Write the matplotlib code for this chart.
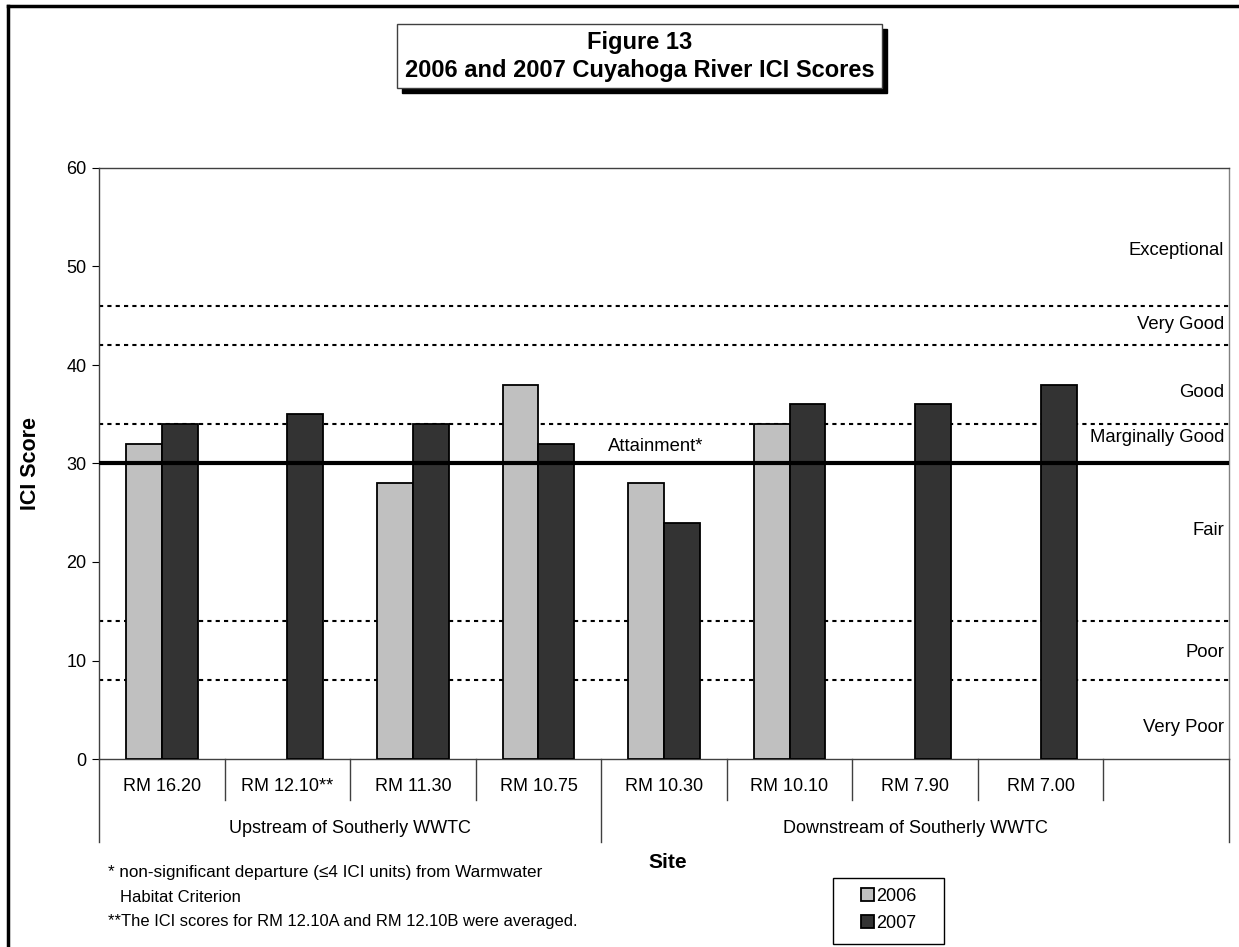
import numpy as np
import matplotlib
matplotlib.use("Agg")
import matplotlib.pyplot as plt
from matplotlib.patches import Rectangle
from matplotlib.lines import Line2D

plt.rcParams['font.family'] = ['Liberation Sans', 'DejaVu Sans']

# Data
sites = ["RM 16.20", "RM 12.10**", "RM 11.30", "RM 10.75", "RM 10.30",
         "RM 10.10", "RM 7.90", "RM 7.00", ""]
groups = ["Upstream of Southerly WWTC", "Downstream of Southerly WWTC"]
group_spans = [(0, 3), (4, 8)]
ici_2006 = [32, np.nan, 28, 38, 28, 34, np.nan, np.nan, np.nan]
ici_2007 = [34, 35, 34, 32, 24, 36, 36, 38, np.nan]

# Narrative thresholds and band labels
dashed_levels = [46, 42, 34, 14, 8]
attainment = 30
band_labels = ["Exceptional", "Very Good", "Good", "Marginally Good",
               "Fair", "Poor", "Very Poor"]
band_label_y = [51.6, 44.1, 37.2, 32.6, 23.2, 10.8, 3.2]

FS = 13
W, H = 1239, 947
fig = plt.figure(figsize=(W / 100, H / 100), dpi=100)
ax = fig.add_axes([99 / W, 1 - 759 / H, (1229 - 99) / W, (759 - 168) / H])

x = np.arange(len(sites))
bw = 0.286
ax.bar(x - bw / 2, ici_2006, bw, color="#C0C0C0", edgecolor="black",
       linewidth=1.3, label="2006", zorder=3)
ax.bar(x + bw / 2, ici_2007, bw, color="#333333", edgecolor="black",
       linewidth=1.3, label="2007", zorder=3)

for lvl in dashed_levels:
    ax.axhline(lvl, color="black", lw=1.5, linestyle=(0, (2, 2)), zorder=2)
ax.axhline(attainment, color="black", lw=3, zorder=4)

ax.set_xlim(-0.5, len(sites) - 0.5)
ax.set_ylim(0, 60)
ax.set_yticks(range(0, 61, 10))
ax.tick_params(axis="y", labelsize=FS, length=5, direction="out", pad=4)
ax.set_xticks([])

for s in ax.spines.values():
    s.set_color("#404040")
    s.set_linewidth(1)
ax.spines["right"].set_color("#808080")

# band labels
for lab, yy in zip(band_labels, band_label_y):
    ax.text(8.46, yy, lab, ha="right", va="center", fontsize=13.3)
ax.text(3.93, 31.7, "Attainment*", ha="center", va="center", fontsize=13.3)

# category axis (two-level)
trans = ax.get_xaxis_transform()
for i, name in enumerate(sites):
    ax.text(i, -0.047, name, transform=trans, ha="center", va="center",
            fontsize=FS)
for b in np.arange(-0.5, len(sites)):
    long = b in (-0.5, 3.5, len(sites) - 0.5)
    ax.add_line(Line2D([b, b], [0, -0.14 if long else -0.069],
                       transform=trans, color="#404040", lw=1, clip_on=False))
for name, (a, b) in zip(groups, group_spans):
    ax.text((a + b) / 2, -0.118, name, transform=trans, ha="center",
            va="center", fontsize=FS)

fig.text(30 / W, 1 - 463 / H, "ICI Score", rotation=90, ha="center",
         va="center", fontsize=15.5, fontweight="bold")
fig.text(668 / W, 1 - 862 / H, "Site", ha="center", va="center",
         fontsize=15, fontweight="bold")

# footnotes
fig.text(108 / W, 1 - 872 / H,
         "* non-significant departure (\u22644 ICI units) from Warmwater",
         ha="left", va="center", fontsize=12.3)
fig.text(120 / W, 1 - 897 / H, "Habitat Criterion", ha="left",
         va="center", fontsize=12)
fig.text(108 / W, 1 - 921 / H,
         "**The ICI scores for RM 12.10A and RM 12.10B were averaged.",
         ha="left", va="center", fontsize=11.9)

# legend (entries placed inside a hand-drawn frame)
leg = fig.legend(loc="center left",
                 bbox_to_anchor=(861 / W, 1 - 910 / H),
                 fontsize=FS, frameon=False,
                 handlelength=0.7, handleheight=0.7, handletextpad=0.15,
                 labelspacing=0.55, borderpad=0, borderaxespad=0)
fig.add_artist(Rectangle((833 / W, 1 - 944 / H), 111 / W, 66 / H,
                         transform=fig.transFigure, facecolor="none",
                         edgecolor="black", lw=1))

# title box with shadow
bx0, by0, bx1, by1 = 397, 24, 882, 88
fig.add_artist(Rectangle(((bx0 + 5) / W, 1 - (by1 + 5) / H),
                         (bx1 - bx0) / W, (by1 - by0) / H,
                         transform=fig.transFigure, facecolor="black",
                         edgecolor="black", zorder=5))
fig.add_artist(Rectangle((bx0 / W, 1 - by1 / H), (bx1 - bx0) / W,
                         (by1 - by0) / H, transform=fig.transFigure,
                         facecolor="white", edgecolor="#404040", lw=1,
                         zorder=6))
fig.text((bx0 + bx1) / 2 / W, 1 - 43 / H, "Figure 13", ha="center",
         va="center", fontsize=17, fontweight="bold", zorder=7)
fig.text((bx0 + bx1) / 2 / W, 1 - 71 / H,
         "2006 and 2007 Cuyahoga River ICI Scores", ha="center",
         va="center", fontsize=17, fontweight="bold", zorder=7)

# outer frame (top and left edges visible)
fig.add_artist(Line2D([8 / W, 1], [1 - 6 / H, 1 - 6 / H],
                      transform=fig.transFigure, color="black", lw=2.5))
fig.add_artist(Line2D([8 / W, 8 / W], [0, 1 - 6 / H],
                      transform=fig.transFigure, color="black", lw=2.5))

fig.savefig("out.png", dpi=100)
